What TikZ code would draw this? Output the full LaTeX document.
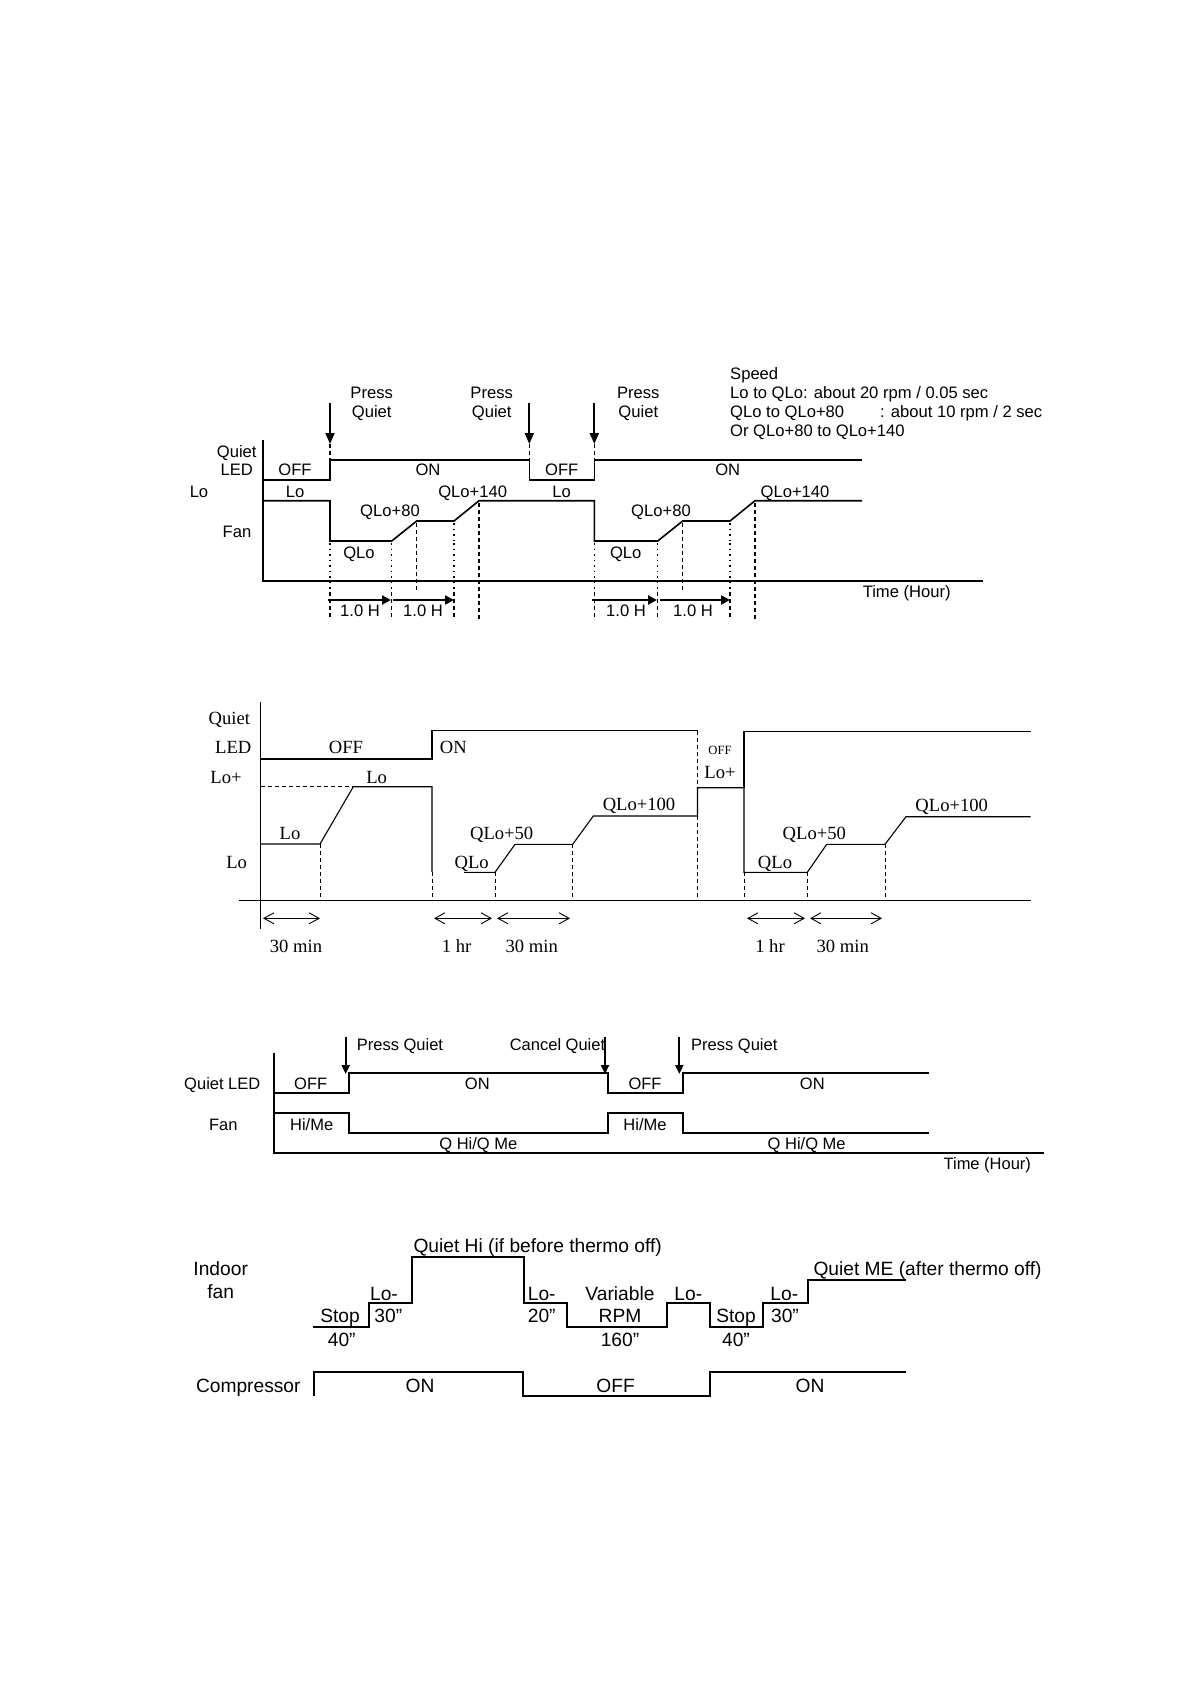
\documentclass[tikz,border=0pt]{standalone}
\usepackage{fontspec}
\setmainfont{Liberation Sans}
\newfontfamily\serifB{Liberation Serif}
\usetikzlibrary{arrows.meta}
\tikzset{
 lblA/.style={inner sep=0pt, font=\fontsize{16.6}{19}\selectfont, text height=11.5pt, text depth=0pt},
 lblB/.style={inner sep=0pt, font=\serifB\fontsize{18.6}{22}\selectfont, text height=12.3pt, text depth=0pt},
 lblBs/.style={inner sep=0pt, font=\serifB\fontsize{12.6}{15}\selectfont, text height=8.4pt, text depth=0pt},
 lblC/.style={inner sep=0pt, font=\fontsize{16.5}{19}\selectfont, text height=11.7pt, text depth=0pt},
 lblD/.style={inner sep=0pt, font=\fontsize{19.2}{22}\selectfont, text height=13pt, text depth=0pt},
 waveA/.style={line width=1.6pt, line join=miter},
 waveB/.style={line width=1.1pt},
 waveC/.style={line width=1.8pt, line join=miter},
 waveD/.style={line width=1.8pt, line join=miter},
 pressarrow/.style={line width=1.8pt, -{Triangle[width=9pt,length=11pt]}},
 timearrow/.style={line width=2.6pt, -{Triangle[width=9pt,length=9pt]}},
 dotsA/.style={line width=1.2pt, dash pattern=on 1.5pt off 4pt},
 dashesA/.style={line width=1.8pt, dash pattern=on 4pt off 3pt},
 spanarrow/.style={line width=0.9pt, {Straight Barb[length=10pt,width=11pt]}-{Straight Barb[length=10pt,width=11pt]}},
 dashB/.style={line width=1pt, dash pattern=on 4pt off 3pt},
}
\begin{document}
\begin{tikzpicture}[x=1pt,y=-1pt]
\useasboundingbox (0,0) rectangle (1190,1684);
\fill[white] (0,0) rectangle (1190,1684);

%%%%%%%%%%%%%%%% Diagram 1 %%%%%%%%%%%%%%%%
\draw[line width=2pt] (263,440) -- (263,581) -- (983,581);
% LED
\draw[waveA] (263,480) -- (330,480) -- (330,460) -- (529.3,460) -- (529.3,480) -- (594.3,480) -- (594.3,460) -- (862,460);
% Fan
\draw[waveA] (263,500.7) -- (330,500.7) -- (330,541) -- (391.7,541) -- (416.7,521) -- (454,521) -- (479,500.7) -- (594.3,500.7) -- (594.3,541) -- (657.7,541) -- (682.7,521) -- (730,521) -- (755,500.7) -- (862,500.7);
% press arrows
\draw[pressarrow] (330,403) -- (330,444);
\draw[pressarrow] (529.3,403) -- (529.3,444);
\draw[pressarrow] (594.3,403) -- (594.3,444);
\draw[dashesA,line width=1.4pt] (330,444) -- (330,460);
\draw[dashesA,line width=1.4pt] (529.3,444) -- (529.3,460);
\draw[dashesA,line width=1.4pt] (594.3,444) -- (594.3,460);
% vertical guides
\foreach \xx in {330,391.7,454,594.3,657.7,730}{
  \draw[dotsA] (\xx,543) -- (\xx,590);
  \draw[dashesA,line width=1.4pt] (\xx,592) -- (\xx,620);
}
\draw[dotsA] (454,523) -- (454,543);
\draw[dotsA] (730,523) -- (730,543);
\foreach \xx in {416.7,682.7}{ \draw[dashesA,line width=1.4pt] (\xx,523) -- (\xx,592); }
\foreach \xx in {479,755}{ \draw[dashesA,line width=1.4pt] (\xx,503) -- (\xx,620); }
% time arrows
\draw[timearrow] (328,600) -- (391,600);
\draw[timearrow] (393,600) -- (454,600);
\draw[timearrow] (592,600) -- (657,600);
\draw[timearrow] (660,600) -- (730,600);
% labels
\node[lblA] (a1) at (236.7,451.7) {Quiet};
\node[lblA] (a2) at (236.7,470) {LED};
\node[lblA] (a3) at (199,491.7) {Lo};
\node[lblA] (a4) at (237,531.7) {Fan};
\node[lblA] (a5) at (295,470) {OFF};
\node[lblA] (a6) at (295,491.7) {Lo};
\node[lblA] (a7) at (428,470) {ON};
\node[lblA] (a8) at (390,510.7) {QLo+80};
\node[lblA] (a9) at (472.7,491.7) {QLo+140};
\node[lblA] (a10) at (359,552.3) {QLo};
\node[lblA] (a11) at (371.7,393) {Press};
\node[lblA] (a12) at (371.7,412) {Quiet};
\node[lblA] (a13) at (491.7,393) {Press};
\node[lblA] (a14) at (491.7,412) {Quiet};
\node[lblA] (a15) at (638.3,393) {Press};
\node[lblA] (a16) at (638.3,412) {Quiet};
\node[lblA] (a17) at (561.7,470) {OFF};
\node[lblA] (a18) at (561.7,491.7) {Lo};
\node[lblA] (a19) at (727.7,470) {ON};
\node[lblA] (a20) at (661,510.7) {QLo+80};
\node[lblA] (a21) at (795,491.7) {QLo+140};
\node[lblA] (a22) at (625.7,552.3) {QLo};
\node[lblA] (a23) at (906.7,591.7) {Time (Hour)};
\node[lblA] (a24) at (360,611) {1.0 H};
\node[lblA] (a25) at (423,611) {1.0 H};
\node[lblA] (a26) at (626,611) {1.0 H};
\node[lblA] (a27) at (693,611) {1.0 H};
\node[lblA,anchor=west] (a28) at (730,374) {Speed};
\node[lblA,anchor=west] (a29) at (730,393) {Lo to QLo: about 20 rpm / 0.05 sec};
\node[lblA,anchor=west] (a30) at (730,412) {QLo to QLo+80};
\node[lblA,anchor=west] (a31) at (880,412) {: about 10 rpm / 2 sec};
\node[lblA,anchor=west] (a32) at (730,431) {Or QLo+80 to QLo+140};

%%%%%%%%%%%%%%%% Diagram 2 %%%%%%%%%%%%%%%%
\draw[waveB] (260.7,701.7) -- (260.7,929.3);
\draw[waveB] (239,900.7) -- (1030.7,900.7);
% LED
\draw[waveB] (260.7,759) -- (432,759) -- (432,730.7) -- (697.5,730.7);
\draw[waveB] (744,787.7) -- (744,731.7) -- (1030.7,731.7);
% fan
\draw[dashB,line width=0.9pt] (260.7,786.7) -- (353.3,786.7);
\draw[waveB] (260.7,844) -- (320,844) -- (353.3,786.7) -- (432,786.7) -- (432,872);
\draw[waveB] (464,872.3) -- (495,872.3) -- (515,844.3) -- (572.7,844.3) -- (593.3,816) -- (697.5,816) -- (697.5,787.7) -- (744,787.7) -- (744,872.3) -- (807.3,872.3) -- (826.7,844.3) -- (885,844.3) -- (906,816.7) -- (1030.7,816.7);
% dashed verticals
\draw[dashB] (320,844) -- (320,900.7);
\draw[dashB] (432,872) -- (432,900.7);
\draw[dashB] (495,872.3) -- (495,900.7);
\draw[dashB] (572.7,844.3) -- (572.7,900.7);
\draw[dashB] (697.5,731) -- (697.5,787.7);
\draw[dashB] (697.5,816) -- (697.5,900.7);
\draw[dashB] (744,872.3) -- (744,900.7);
\draw[dashB] (807.3,872.3) -- (807.3,900.7);
\draw[dashB] (885,844.3) -- (885,900.7);
% span arrows
\draw[spanarrow] (263,918.3) -- (320,918.3);
\draw[spanarrow] (434,918.3) -- (492,918.3);
\draw[spanarrow] (497,918.3) -- (570,918.3);
\draw[spanarrow] (747,918.3) -- (805,918.3);
\draw[spanarrow] (810,918.3) -- (882,918.3);
% labels
\node[lblB] (b1) at (229.3,718.3) {Quiet};
\node[lblB] (b2) at (233.3,747.3) {LED};
\node[lblB] (b3) at (226,777.3) {Lo+};
\node[lblB] (b4) at (236.7,862.3) {Lo};
\node[lblB] (b5) at (346,747.3) {OFF};
\node[lblB] (b6) at (376.7,777.3) {Lo};
\node[lblB] (b7) at (290,833.3) {Lo};
\node[lblB] (b8) at (453.3,747.3) {ON};
\node[lblB] (b9) at (501.7,833.3) {QLo+50};
\node[lblB] (b10) at (471.7,862.3) {QLo};
\node[lblB] (b11) at (639,804) {QLo+100};
\node[lblBs] (b12) at (720,750) {OFF};
\node[lblB] (b13) at (720,772.7) {Lo+};
\node[lblB] (b14) at (775,862.3) {QLo};
\node[lblB] (b15) at (814.3,833.3) {QLo+50};
\node[lblB] (b16) at (951.7,805) {QLo+100};
\node[lblB] (b17) at (296,946.7) {30 min};
\node[lblB] (b18) at (456.7,946.7) {1 hr};
\node[lblB] (b19) at (531.7,946.7) {30 min};
\node[lblB] (b20) at (770,946.7) {1 hr};
\node[lblB] (b21) at (842.7,946.7) {30 min};

%%%%%%%%%%%%%%%% Diagram 3 %%%%%%%%%%%%%%%%
\draw[waveC] (274.3,1053.3) -- (274.3,1153.3) -- (1044.3,1153.3);
\draw[waveC] (274.3,1093.3) -- (349,1093.3) -- (349,1072.7) -- (607.7,1072.7) -- (607.7,1093.3) -- (682.7,1093.3) -- (682.7,1072.7) -- (929.3,1072.7);
\draw[waveC] (274.3,1113.3) -- (349,1113.3) -- (349,1133.3) -- (607.7,1133.3) -- (607.7,1113.3) -- (682.7,1113.3) -- (682.7,1133.3) -- (929.3,1133.3);
\draw[pressarrow,-{Triangle[width=8pt,length=9pt]}] (345.7,1036.7) -- (345.7,1074);
\draw[pressarrow,-{Triangle[width=8pt,length=9pt]}] (605,1036.7) -- (605,1074);
\draw[pressarrow,-{Triangle[width=8pt,length=9pt]}] (679.3,1036.7) -- (679.3,1074);
\node[lblC] (c1) at (222.3,1084) {Quiet LED};
\node[lblC] (c2) at (223.3,1124.3) {Fan};
\node[lblC] (c3) at (310.7,1084) {OFF};
\node[lblC] (c4) at (477.3,1084) {ON};
\node[lblC] (c5) at (311.7,1124.3) {Hi/Me};
\node[lblC] (c6) at (478.3,1144) {Q Hi/Q Me};
\node[lblC,anchor=west] (c7) at (356.7,1045) {Press Quiet};
\node[lblC] (c8) at (557.5,1045) {Cancel Quiet};
\node[lblC] (c9) at (645,1084) {OFF};
\node[lblC] (c10) at (645,1124.3) {Hi/Me};
\node[lblC] (c11) at (812.3,1084) {ON};
\node[lblC] (c12) at (806.7,1144) {Q Hi/Q Me};
\node[lblC,anchor=west] (c13) at (691,1045) {Press Quiet};
\node[lblC] (c14) at (987.3,1164) {Time (Hour)};

%%%%%%%%%%%%%%%% Diagram 4 %%%%%%%%%%%%%%%%
\draw[waveD] (313.3,1326.7) -- (369.3,1326.7) -- (369.3,1303.3) -- (411.7,1303.3) -- (411.7,1256.7) -- (524,1256.7) -- (524,1303.3) -- (567.3,1303.3) -- (567.3,1326.7) -- (667.3,1326.7) -- (667.3,1303.3) -- (710,1303.3) -- (710,1326.7) -- (763.3,1326.7) -- (763.3,1303.3) -- (807.7,1303.3) -- (807.7,1280) -- (906,1280);
\draw[waveD] (314,1396) -- (314,1372.3) -- (523.3,1372.3) -- (523.3,1396) -- (710,1396) -- (710,1372.3) -- (906,1372.3);
\node[lblD] (d1) at (220.7,1269.3) {Indoor};
\node[lblD] (d2) at (220.7,1291.7) {fan};
\node[lblD] (d3) at (248.3,1385.7) {Compressor};
\node[lblD] (d4) at (340,1316) {Stop};
\node[lblD] (d5) at (341.7,1340) {40"};
\node[lblD] (d6) at (384,1294) {Lo-};
\node[lblD] (d7) at (388.3,1316) {30"};
\node[lblD,anchor=west] (d8) at (413.3,1246) {Quiet Hi (if before thermo off)};
\node[lblD] (d9) at (541.7,1294) {Lo-};
\node[lblD] (d10) at (541.7,1316) {20"};
\node[lblD] (d11) at (620,1294) {Variable};
\node[lblD] (d12) at (620,1316) {RPM};
\node[lblD] (d13) at (620,1340) {160"};
\node[lblD] (d14) at (688.3,1294) {Lo-};
\node[lblD] (d15) at (736,1316) {Stop};
\node[lblD] (d16) at (736,1340) {40"};
\node[lblD] (d17) at (784.3,1294) {Lo-};
\node[lblD] (d18) at (785,1316) {30"};
\node[lblD,anchor=west] (d19) at (813.3,1269.3) {Quiet ME (after thermo off)};
\node[lblD] (d20) at (420,1385.7) {ON};
\node[lblD] (d21) at (615.6,1385.7) {OFF};
\node[lblD] (d22) at (810,1385.7) {ON};
\end{tikzpicture}
\end{document}
